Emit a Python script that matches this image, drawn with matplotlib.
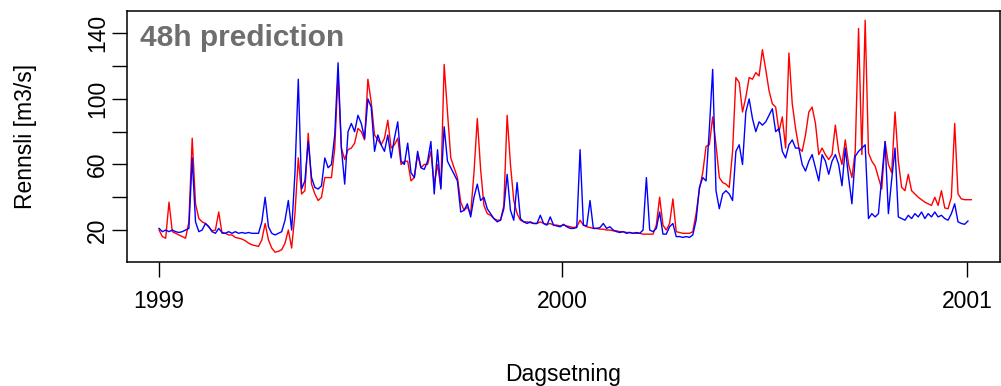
import numpy as np
import pandas as pd
import matplotlib
matplotlib.use("Agg")
import matplotlib.pyplot as plt

plt.rcParams['font.family'] = ['Liberation Sans', 'DejaVu Sans']

# daily flow, read every 3rd day from 1999-01-01
start_date = "1999-01-01"
step = "3D"

# red series (ends a couple of days after the blue one)
flow_red = [
    20, 16, 15, 37, 19, 18, 17, 16, 15, 25,
    76, 36, 27, 25, 24, 22, 19.5, 20, 31, 18,
    18, 17, 17, 15.5, 15, 14.5, 13.5, 12, 11, 10.5,
    10, 14, 24, 14, 9, 6.5, 7, 8, 12, 20,
    9, 30, 64, 42, 44, 79, 48, 42, 38, 40,
    52, 52, 52, 70, 115, 70, 63, 69, 70, 73,
    82, 80, 75, 112, 98, 78, 75, 72, 76, 87,
    70, 72, 76, 60, 62, 62, 50, 52, 66, 58,
    60, 60, 68, 48, 60, 46, 121, 92, 64, 58,
    52, 37, 32, 34, 30, 55, 88, 57, 35, 30,
    29, 27, 26, 26, 35, 90, 60, 38, 30, 26,
    25, 25, 24.5, 24, 24, 25, 24, 23.5, 24, 23,
    23, 22.5, 23, 22.5, 22, 21.5, 22, 26, 23, 22,
    21.5, 21, 21, 20.5, 20.5, 20, 20, 19.5, 19.5, 19,
    19, 18.5, 18.5, 18, 18, 18, 17.5, 17.5, 17.5, 17.5,
    23, 40, 23, 20, 24, 39, 19, 18.5, 18, 18,
    18, 19, 30, 45, 55, 71, 72, 89, 72, 52,
    49, 48, 46, 68, 113, 110, 92, 101, 113, 112,
    116, 114, 130, 118, 105, 97, 95, 80, 89, 70,
    128, 97, 82, 70, 68, 78, 92, 95, 85, 66,
    70, 66, 63, 66, 84, 68, 60, 75, 60, 52,
    68, 143, 66, 148, 67, 62, 59, 52, 45, 74,
    60, 55, 92, 62, 46, 44, 54, 44, 42, 40,
    38.5, 37, 36, 35, 40, 35, 44, 33.5, 33, 40,
    85, 42, 39, 38.5, 38.5, 38.5,
]

# blue series
flow_blue = [
    21, 19, 20, 19, 20, 19, 18.5, 19, 20, 21,
    64, 25, 19, 20, 24, 22, 19, 18, 21, 18.5,
    18, 19, 18, 19, 18, 18.5, 18, 18.5, 18, 18,
    18, 25, 40, 22, 18, 17, 18, 19, 26, 38,
    20, 55, 112, 45, 50, 74, 52, 46, 45, 47,
    64, 58, 60, 78, 122, 70, 48, 80, 85, 80,
    90, 85, 76, 100, 95, 68, 78, 72, 68, 78,
    64, 76, 86, 62, 60, 73, 55, 52, 68, 58,
    57, 62, 74, 42, 69, 45, 83, 62, 58, 54,
    50, 31, 32, 36, 28, 40, 48, 38, 40, 33,
    30, 27, 25, 26, 33, 54, 32, 26, 49, 27,
    25, 24, 25, 24, 24, 29, 24, 23, 28, 23,
    22.5, 22, 23.5, 22, 21, 21, 21.5, 69, 23, 22.5,
    38, 21, 21, 21.5, 24, 21, 22, 20, 19, 18.5,
    19, 18, 18.5, 18, 18.5, 18, 20, 52, 20, 19,
    21, 31, 17.5, 17.5, 22, 24, 16, 16, 15.5, 16,
    15.5, 17, 26, 46, 52, 50, 82, 118, 44, 33,
    42, 44, 42, 38, 68, 72, 60, 92, 100, 88,
    80, 86, 84, 86, 90, 94, 80, 82, 68, 64,
    72, 75, 70, 70, 60, 56, 62, 66, 58, 50,
    66, 62, 54, 62, 66, 60, 47, 70, 52, 36,
    65, 68, 70, 72, 27, 30, 28, 30, 52, 74,
    30, 51, 70, 28, 27, 26, 29, 27, 30, 28,
    31, 27, 30, 28, 31, 28, 29, 27, 26, 30,
    36, 25, 24, 23.5, 25.5,
]

year_ticks = ["1999-01-01", "2000-01-01", "2001-01-01"]
year_labels = ["1999", "2000", "2001"]
y_ticks = [20, 40, 60, 80, 100, 120, 140]
y_labels = ["20", "", "60", "", "100", "", "140"]

dates_red = pd.date_range(start_date, periods=len(flow_red), freq=step)
dates_blue = pd.date_range(start_date, periods=len(flow_blue), freq=step)

fig = plt.figure(figsize=(10.01, 3.86), dpi=100)
ax = fig.add_axes([127/1001, 1 - 262/386, (1000 - 127)/1001, (262 - 10.7)/386])

ax.plot(dates_red, flow_red, color="#ff0000", lw=1.0)
ax.plot(dates_blue, flow_blue, color="#0000ff", lw=1.0)

t0 = pd.Timestamp(start_date)
ax.set_xlim(t0 - pd.Timedelta(days=29), t0 + pd.Timedelta(days=761))
ax.set_ylim(0.5, 153.8)

ax.set_xticks(pd.to_datetime(year_ticks))
ax.set_xticklabels(year_labels)
ax.set_yticks(y_ticks)
ax.set_yticklabels(y_labels, rotation=90, va="center")

ax.tick_params(axis="x", length=11, width=1, pad=9, labelsize=16.5)
ax.tick_params(axis="y", length=11, width=1, pad=2, labelsize=16.5)
for s in ax.spines.values():
    s.set_linewidth(1.1)

ax.set_xlabel("Dagsetning", fontsize=16.5, labelpad=36)
ax.set_ylabel("Rennsli [m3/s]", fontsize=16.5, labelpad=35)

ax.text(0.015, 0.86, "48h prediction", transform=ax.transAxes,
        fontsize=21.5, fontweight="bold", color="#6e6e6e", va="baseline")

fig.savefig("out.png", dpi=100)
